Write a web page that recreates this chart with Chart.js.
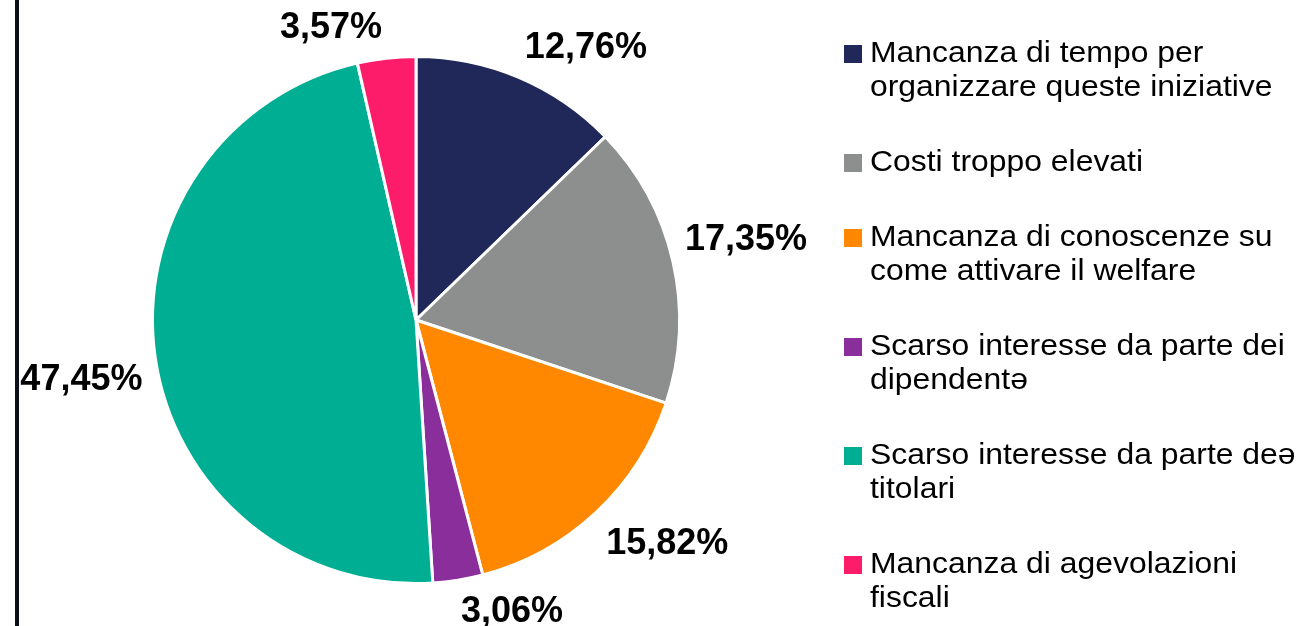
<!DOCTYPE html>
<html lang="it">
<head>
<meta charset="utf-8">
<title>Motivi della mancata attivazione del welfare</title>
<script src="https://cdn.jsdelivr.net/npm/chart.js@4.4.1/dist/chart.umd.min.js"></script>
<style>
  html, body { margin: 0; padding: 0; background: #ffffff; }
  #wrap { position: relative; width: 1304px; height: 626px; }
</style>
</head>
<body>
<div id="wrap"><canvas id="pie"></canvas></div>
<script>
// Categories (already split into the lines shown in the legend)
const categories = [
  ["Mancanza di tempo per", "organizzare queste iniziative"],
  ["Costi troppo elevati"],
  ["Mancanza di conoscenze su", "come attivare il welfare"],
  ["Scarso interesse da parte dei", "dipendentə"],
  ["Scarso interesse da parte deə", "titolari"],
  ["Mancanza di agevolazioni", "fiscali"]
];

// Share of respondents, percent
const shares = [12.76, 17.35, 15.82, 3.06, 47.45, 3.57];

const sliceColors = ["#1f2859", "#8d8f8e", "#ff8800", "#8a2e9c", "#00ae94", "#fd1c6a"];

// Per-label placement: angular nudge from the slice mid-angle (deg) and
// distance from the centre as a multiple of the outer radius
const labelNudgeDeg = [9.0, -0.8, -5.1, -9.0, -1.9, -9.8];
const labelRadiusFactor = [1.218, 1.289, 1.278, 1.168, 1.290, 1.154];

const fmtPct = v => v.toFixed(2).replace('.', ',') + '%';

// Thin dark rule along the left edge
const leftRule = {
  id: 'leftRule',
  beforeDatasetsDraw(chart) {
    const ctx = chart.ctx;
    ctx.save();
    ctx.fillStyle = '#0b0f19';
    ctx.fillRect(15, 0, 4, chart.height);
    ctx.restore();
  }
};

// Percentage labels outside each slice
const sliceLabels = {
  id: 'sliceLabels',
  afterDatasetsDraw(chart) {
    const ctx = chart.ctx;
    const meta = chart.getDatasetMeta(0);
    ctx.save();
    ctx.font = 'bold 36px "Liberation Sans", Arial, sans-serif';
    ctx.fillStyle = '#000000';
    ctx.textAlign = 'center';
    ctx.textBaseline = 'middle';
    meta.data.forEach((arc, i) => {
      const p = arc.getProps(['x', 'y', 'startAngle', 'endAngle', 'outerRadius'], true);
      const mid = (p.startAngle + p.endAngle) / 2 + labelNudgeDeg[i] * Math.PI / 180;
      const r = p.outerRadius * labelRadiusFactor[i];
      ctx.fillText(fmtPct(shares[i]), p.x + Math.cos(mid) * r, p.y + Math.sin(mid) * r);
    });
    ctx.restore();
  }
};

// Legend on the right with wrapped entries
const sideLegend = {
  id: 'sideLegend',
  afterDraw(chart) {
    const ctx = chart.ctx;
    const markerX = 844, markerSize = 18, textX = 870;
    const lineH = 34, itemGap = 75;
    let y = 54;
    ctx.save();
    ctx.font = '29px "Liberation Sans", Arial, sans-serif';
    ctx.textBaseline = 'middle';
    ctx.textAlign = 'left';
    categories.forEach((lines, i) => {
      ctx.fillStyle = sliceColors[i];
      ctx.fillRect(markerX, y - markerSize / 2, markerSize, markerSize);
      ctx.fillStyle = '#000000';
      lines.forEach((line, k) => {
        ctx.save();
        ctx.translate(textX, y + k * lineH);
        ctx.scale(1.10, 1);
        ctx.fillText(line, 0, 0);
        ctx.restore();
      });
      y += (lines.length - 1) * lineH + itemGap;
    });
    ctx.restore();
  }
};

new Chart(document.getElementById('pie'), {
  type: 'pie',
  data: {
    labels: categories.map(l => l.join(' ')),
    datasets: [{
      data: shares,
      backgroundColor: sliceColors,
      borderColor: '#ffffff',
      borderWidth: 3
    }]
  },
  options: {
    responsive: true,
    maintainAspectRatio: false,
    animation: false,
    layout: { padding: { left: 151, right: 623, top: 55, bottom: 41 } },
    plugins: {
      legend: { display: false },
      tooltip: { enabled: false }
    }
  },
  plugins: [leftRule, sliceLabels, sideLegend]
});
</script>
</body>
</html>
